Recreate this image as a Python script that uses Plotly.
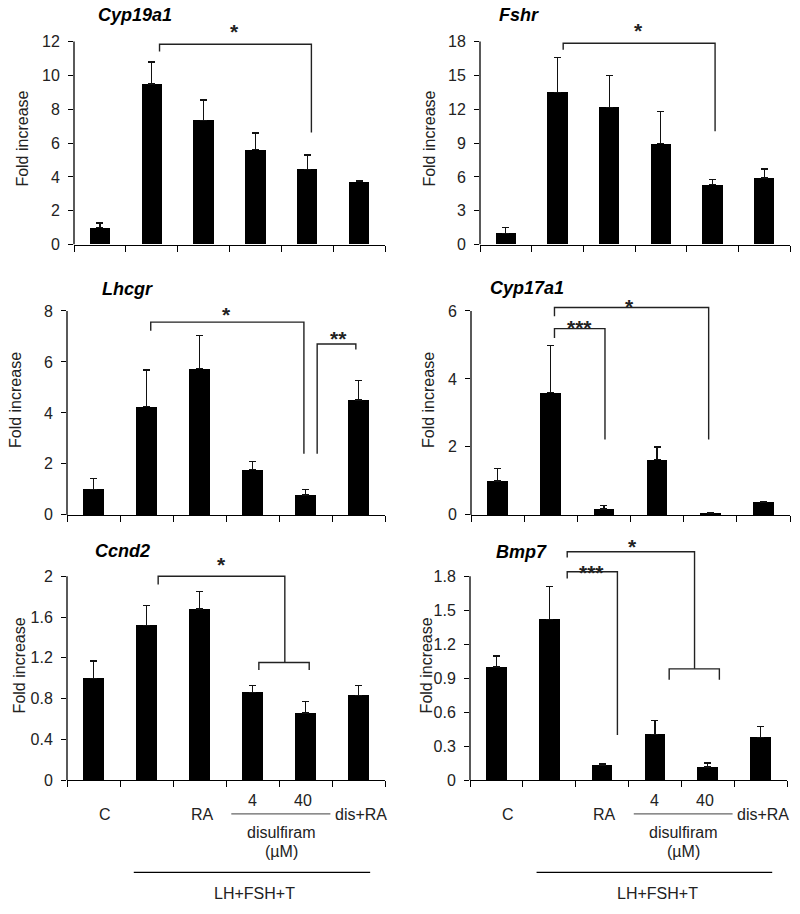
import plotly.graph_objects as go

# ---------------- data ----------------
categories = ["C", "LH+FSH+T", "RA", "disulfiram 4", "disulfiram 40", "dis+RA"]
genes = ["Cyp19a1", "Fshr", "Lhcgr", "Cyp17a1", "Ccnd2", "Bmp7"]

cyp19a1_mean = [1.0, 9.5, 7.35, 5.6, 4.45, 3.72]
cyp19a1_err = [0.27, 1.3, 1.2, 1.0, 0.85, 0.08]
fshr_mean = [0.97, 13.5, 12.15, 8.95, 5.3, 5.9]
fshr_err = [0.55, 3.1, 2.85, 2.85, 0.44, 0.8]
lhcgr_mean = [1.0, 4.24, 5.73, 1.78, 0.78, 4.51]
lhcgr_err = [0.43, 1.44, 1.3, 0.3, 0.22, 0.77]
cyp17a1_mean = [1.0, 3.6, 0.17, 1.62, 0.04, 0.37]
cyp17a1_err = [0.36, 1.39, 0.10, 0.38, 0.02, 0.02]
ccnd2_mean = [1.0, 1.52, 1.68, 0.86, 0.66, 0.83]
ccnd2_err = [0.17, 0.19, 0.17, 0.07, 0.115, 0.10]
bmp7_mean = [1.0, 1.42, 0.134, 0.405, 0.117, 0.376]
bmp7_err = [0.097, 0.29, 0.015, 0.125, 0.035, 0.10]

cyp19a1_ticks = [0, 2, 4, 6, 8, 10, 12]
fshr_ticks = [0, 3, 6, 9, 12, 15, 18]
lhcgr_ticks = [0, 2, 4, 6, 8]
cyp17a1_ticks = [0, 2, 4, 6]
ccnd2_ticks = [0, 0.4, 0.8, 1.2, 1.6, 2]
bmp7_ticks = [0, 0.3, 0.6, 0.9, 1.2, 1.5, 1.8]
ccnd2_ticktext = ["0", "0.4", "0.8", "1.2", "1.6", "2"]
bmp7_ticktext = ["0", "0.3", "0.6", "0.9", "1.2", "1.5", "1.8"]

# significance brackets: (x_left, y_left_end, x_right, y_right_end, y_top)
cyp19a1_brackets = [(1.15, 11.41, 4.08, 6.63, 11.84)]
fshr_brackets = [(1.11, 17.27, 4.05, 10.04, 17.85)]
lhcgr_brackets = [(1.08, 7.22, 3.97, 2.4, 7.56), (4.22, 2.4, 4.95, 6.49, 6.7)]
cyp17a1_brackets = [(1.07, 5.84, 3.97, 2.22, 6.1), (1.07, 5.2, 2.02, 2.22, 5.48)]
ccnd2_brackets = [(1.22, 1.92, 3.61, 1.154, 2.0), (3.12, 1.08, 4.07, 1.08, 1.154)]
bmp7_brackets = [(1.34, 1.966, 3.75, 0.983, 2.016), (3.27, 0.887, 4.22, 0.887, 0.983),
                 (1.34, 1.78, 2.29, 0.4, 1.84)]
# significance marks: (text, x, y)
cyp19a1_marks = [("*", 2.6, 12.94)]
fshr_marks = [("*", 2.56, 19.5)]
lhcgr_marks = [("*", 2.5, 8.1), ("**", 4.63, 7.17)]
cyp17a1_marks = [("*", 2.49, 6.3), ("***", 1.55, 5.69)]
ccnd2_marks = [("*", 2.42, 2.17)]
bmp7_marks = [("*", 2.58, 2.12), ("***", 1.8, 1.89)]

# bottom group labels: (text, x in category units, y pixel)
bottom_labels = [("C", 0.22, 823), ("RA", 2.05, 823), ("4", 3.0, 808), ("40", 3.95, 808),
                 ("dis+RA", 5.04, 823), ("disulfiram", 3.53, 841), ("(µM)", 3.55, 860),
                 ("LH+FSH+T", 3.04, 902)]

# ---------------- layout geometry (pixels) ----------------
W, H = 800, 914
FONT = "Liberation Sans, Arial, sans-serif"
# (axis left px, axis right px, y0 px, ytop px, title x, title y, ylabel x, ylabel y, range ext)
geom = [
    (74, 385, 247, 42, 135, 15, 23, 140, 1.15),
    (480, 790, 247, 42, 519, 15, 430, 140, 1.15),
    (67, 385, 520, 314, 127, 292, 15, 404, 1.25),
    (471, 790, 520, 314, 527, 291, 428, 404, 1.25),
    (67, 385, 788, 582, 122, 556, 19, 672, 1.25),
    (470, 787, 788, 582, 521, 557, 426, 672, 1.25),
]

means = [cyp19a1_mean, fshr_mean, lhcgr_mean, cyp17a1_mean, ccnd2_mean, bmp7_mean]
errs = [cyp19a1_err, fshr_err, lhcgr_err, cyp17a1_err, ccnd2_err, bmp7_err]
ticks = [cyp19a1_ticks, fshr_ticks, lhcgr_ticks, cyp17a1_ticks, ccnd2_ticks, bmp7_ticks]
ticktexts = [None, None, None, None, ccnd2_ticktext, bmp7_ticktext]
brackets = [cyp19a1_brackets, fshr_brackets, lhcgr_brackets, cyp17a1_brackets,
            ccnd2_brackets, bmp7_brackets]
marks = [cyp19a1_marks, fshr_marks, lhcgr_marks, cyp17a1_marks, ccnd2_marks, bmp7_marks]

fig = go.Figure()
shapes = []
annotations = []
layout_axes = {}
xs = list(range(len(categories)))

for i in range(6):
    n = i + 1
    sfx = "" if n == 1 else str(n)
    xa, ya = "x" + sfx, "y" + sfx
    left, right, p0, ptop, tx, ty, lx, ly, ext = geom[i]
    top = ticks[i][-1]
    y0p = 1 - p0 / H
    ytp = 1 - ptop / H
    dom_top = min(1.0, y0p + (ytp - y0p) * ext)
    ext = (dom_top - y0p) / (ytp - y0p)

    fig.add_trace(go.Bar(
        x=xs, y=means[i], width=0.39, marker=dict(color="black", line=dict(width=0)),
        error_y=dict(type="data", symmetric=False, array=errs[i],
                     arrayminus=[0] * len(errs[i]), color="#111", thickness=1.3, width=3.5),
        xaxis=xa, yaxis=ya, showlegend=False, hoverinfo="skip"))

    layout_axes["xaxis" + sfx] = dict(
        domain=[left / W, right / W], anchor=ya, range=[-0.5, len(categories) - 0.5],
        tickmode="array", tickvals=[k - 0.5 for k in range(len(categories) + 1)],
        showticklabels=False, ticks="outside", ticklen=6, tickwidth=1.3, tickcolor="black",
        showline=True, linecolor="black", linewidth=1.3, showgrid=False, zeroline=False,
        fixedrange=True)
    yax = dict(
        domain=[y0p, dom_top], anchor=xa, range=[0, top * ext],
        tickmode="array", tickvals=ticks[i],
        ticks="outside", ticklen=5, tickwidth=1.3, tickcolor="black",
        ticklabelstandoff=5,
        tickfont=dict(family=FONT, size=16, color="#222"),
        showline=False, showgrid=False, zeroline=False, fixedrange=True)
    if ticktexts[i] is not None:
        yax["ticktext"] = ticktexts[i]
    layout_axes["yaxis" + sfx] = yax

    # y axis line up to the top tick
    shapes.append(dict(type="line", xref=xa + " domain", yref=ya, x0=0, x1=0, y0=0, y1=top,
                       line=dict(color="black", width=1.3)))
    # brackets
    for (xl, yl, xr, yr, yt) in brackets[i]:
        shapes.append(dict(type="path", xref=xa, yref=ya,
                           path=f"M {xl},{yl} L {xl},{yt} L {xr},{yt} L {xr},{yr}",
                           line=dict(color="#222", width=1.4)))
    for (t, mx, my) in marks[i]:
        annotations.append(dict(text="<b>" + t + "</b>", x=mx, y=my, xref=xa, yref=ya,
                                showarrow=False, xanchor="center", yanchor="middle", yshift=-6,
                                font=dict(family=FONT, size=21, color="#222")))
    # gene title
    annotations.append(dict(text="<b><i>" + genes[i] + "</i></b>", x=tx / W, y=1 - ty / H,
                            xref="paper", yref="paper", showarrow=False,
                            xanchor="center", yanchor="middle",
                            font=dict(family=FONT, size=18, color="black")))
    # y axis title
    annotations.append(dict(text="Fold increase", x=lx / W, y=1 - ly / H, xref="paper",
                            yref="paper", showarrow=False, textangle=-90,
                            xanchor="center", yanchor="middle",
                            font=dict(family=FONT, size=16, color="#222")))

# bottom labels under the two lower panels
for xa in ["x5", "x6"]:
    for (t, bx, by) in bottom_labels:
        annotations.append(dict(text=t, x=bx, y=1 - by / H, xref=xa, yref="paper",
                                showarrow=False, xanchor="center", yanchor="middle",
                                font=dict(family=FONT, size=16, color="#222")))
    shapes.append(dict(type="line", xref=xa, yref="paper", x0=2.6, x1=4.47,
                       y0=1 - 822 / H, y1=1 - 822 / H, line=dict(color="#666", width=1.3)))
    shapes.append(dict(type="line", xref=xa, yref="paper", x0=0.76, x1=5.22,
                       y0=1 - 881 / H, y1=1 - 881 / H, line=dict(color="black", width=1.3)))

fig.update_layout(
    width=W, height=H, margin=dict(l=0, r=0, t=0, b=0),
    paper_bgcolor="white", plot_bgcolor="white",
    shapes=shapes, annotations=annotations, bargap=0, **layout_axes)

fig.write_html("out.html", config={"displayModeBar": False},
               post_script="document.body.style.margin='0';")
